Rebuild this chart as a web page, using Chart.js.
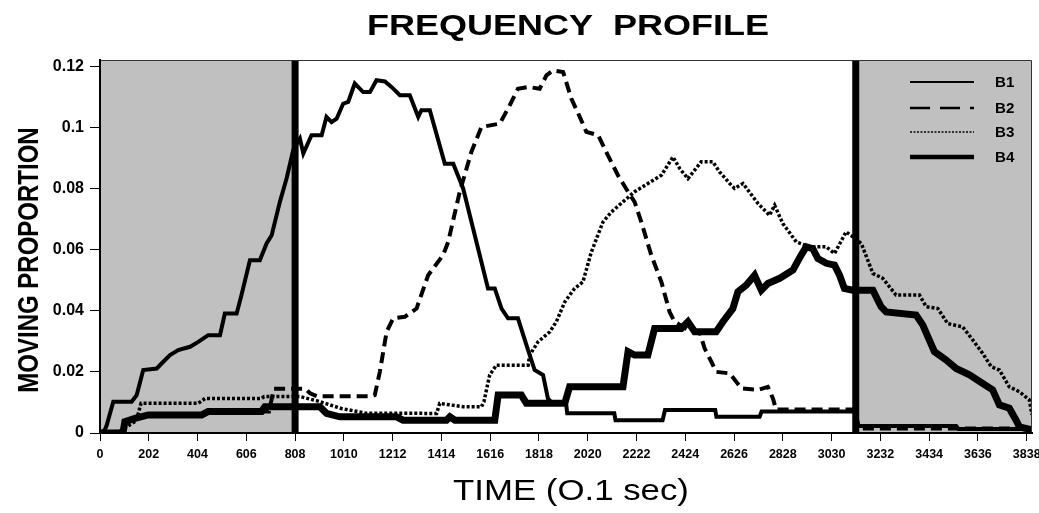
<!DOCTYPE html>
<html>
<head>
<meta charset="utf-8">
<script src="https://cdn.jsdelivr.net/npm/chart.js@4.4.1/dist/chart.umd.min.js"></script>
<style>
  body { margin: 0; background: #fff; }
  #wrap { width: 1039px; height: 513px; }
</style>
</head>
<body>
<div id="wrap"><canvas id="freqChart"></canvas></div>
<script>
// tick values (time in 0.1 sec, moving proportion)
var timeTicks = [0, 202, 404, 606, 808, 1010, 1212, 1414, 1616, 1818, 2020, 2222, 2424, 2626, 2828, 3030, 3232, 3434, 3636, 3838];
var propTicks = [0, 0.02, 0.04, 0.06, 0.08, 0.1, 0.12];

// grey windows and the two boundary markers
var shadedRanges = [[0, 808], [3130, 3860]];
var markerTimes = [808, 3130];

var seriesNames = ['B1', 'B2', 'B3', 'B4'];

// [time, proportion]
var b1 = [[0,0],[20,0.001],[28,0.0026],[55,0.0102],[131,0.0102],[152,0.0124],[179,0.0206],[235,0.0211],[262,0.0233],[290,0.0255],[324,0.0271],[373,0.0282],[407,0.0298],[448,0.032],[497,0.032],[517,0.0391],[566,0.0391],[586,0.0451],[621,0.0565],[662,0.0565],[690,0.062],[711,0.0647],[745,0.0756],[773,0.0833],[800,0.0925],[828,0.0963],[842,0.0914],[876,0.0974],[918,0.0974],[938,0.1034],[959,0.1017],[980,0.1028],[1007,0.1077],[1028,0.1083],[1055,0.1143],[1090,0.1115],[1118,0.1115],[1145,0.1154],[1180,0.115],[1207,0.1132],[1242,0.1105],[1283,0.1105],[1318,0.1034],[1331,0.1056],[1366,0.1056],[1428,0.0881],[1463,0.0881],[1504,0.08],[1607,0.0473],[1635,0.0473],[1663,0.0407],[1690,0.0375],[1731,0.0375],[1766,0.0288],[1800,0.0206],[1835,0.019],[1855,0.0113],[1870,0.010],[1930,0.010],[1935,0.0065],[2130,0.0065],[2135,0.0042],[2330,0.0042],[2340,0.0075],[2548,0.0075],[2553,0.0053],[2732,0.0053],[2740,0.007],[3130,0.007],[3140,0.0023],[3546,0.0023],[3556,0.0013],[3860,0.0013]];

var b2 = [[0,0],[95,0],[103,0.0037],[200,0.0059],[421,0.0059],[448,0.007],[700,0.007],[720,0.0145],[850,0.0145],[870,0.013],[900,0.012],[1124,0.012],[1138,0.0124],[1159,0.02],[1187,0.0331],[1214,0.0375],[1262,0.038],[1311,0.0407],[1359,0.0516],[1421,0.0582],[1442,0.0625],[1490,0.0789],[1538,0.0919],[1580,0.1001],[1656,0.1012],[1697,0.1072],[1731,0.1126],[1773,0.1132],[1821,0.1126],[1849,0.117],[1876,0.1186],[1918,0.1181],[1952,0.1094],[1987,0.1034],[2014,0.0985],[2063,0.0974],[2097,0.0919],[2145,0.0843],[2187,0.0789],[2214,0.0756],[2242,0.069],[2283,0.0582],[2325,0.0494],[2359,0.0396],[2380,0.0364],[2430,0.034],[2483,0.0331],[2504,0.0277],[2532,0.0233],[2552,0.02],[2608,0.0195],[2635,0.0168],[2656,0.0146],[2725,0.0141],[2766,0.0151],[2787,0.0113],[2800,0.0077],[3130,0.0077],[3140,0.0015],[3860,0.0015]];

var b3 = [[0,0],[80,0.0005],[150,0.004],[170,0.0097],[407,0.0097],[435,0.0113],[669,0.0113],[680,0.0119],[830,0.0119],[900,0.0105],[1000,0.008],[1100,0.0065],[1394,0.0064],[1407,0.0097],[1449,0.0092],[1504,0.0086],[1580,0.0086],[1590,0.0102],[1614,0.019],[1642,0.0222],[1773,0.0222],[1780,0.0255],[1814,0.0298],[1863,0.0331],[1890,0.0364],[1925,0.0429],[1966,0.0473],[2000,0.0494],[2035,0.0592],[2083,0.069],[2118,0.0723],[2166,0.0756],[2214,0.0789],[2269,0.0816],[2325,0.0843],[2373,0.0903],[2401,0.0865],[2435,0.0832],[2490,0.0887],[2538,0.0887],[2566,0.0854],[2608,0.0816],[2628,0.08],[2663,0.0816],[2725,0.0751],[2773,0.0712],[2794,0.0745],[2828,0.0685],[2884,0.0625],[2939,0.0609],[3008,0.0609],[3042,0.0587],[3090,0.0658],[3118,0.0642],[3153,0.062],[3201,0.0522],[3242,0.0506],[3297,0.0451],[3394,0.0451],[3422,0.0413],[3470,0.0407],[3511,0.0358],[3573,0.0347],[3615,0.0304],[3656,0.026],[3691,0.0217],[3725,0.0206],[3766,0.0151],[3808,0.0135],[3849,0.0108],[3860,0.006]];

var b4 = [[0,0],[95,0],[103,0.0037],[145,0.0048],[200,0.0059],[421,0.0059],[448,0.007],[669,0.007],[683,0.0086],[911,0.0086],[938,0.0064],[993,0.0053],[1228,0.0053],[1255,0.0042],[1435,0.0042],[1449,0.0053],[1470,0.0042],[1635,0.0042],[1649,0.0124],[1745,0.0124],[1766,0.0097],[1925,0.0097],[1945,0.0151],[2166,0.0151],[2187,0.0266],[2214,0.0255],[2269,0.0255],[2297,0.0342],[2408,0.0342],[2435,0.0364],[2463,0.0331],[2552,0.0331],[2580,0.0364],[2621,0.0407],[2642,0.0462],[2677,0.0484],[2711,0.0516],[2739,0.0467],[2766,0.0489],[2815,0.0506],[2870,0.0533],[2904,0.0582],[2925,0.0609],[2952,0.0603],[2973,0.0571],[3008,0.0555],[3042,0.0549],[3063,0.0516],[3083,0.0473],[3118,0.0467],[3201,0.0467],[3235,0.0413],[3256,0.0396],[3380,0.0386],[3408,0.0353],[3435,0.0304],[3456,0.0266],[3504,0.0239],[3546,0.0211],[3601,0.019],[3656,0.0162],[3697,0.0141],[3725,0.0092],[3766,0.0081],[3794,0.0042],[3808,0.002],[3860,0.001]];

function toPoints(arr){
  return arr.map(function(p){ return {x: p[0], y: p[1]}; });
}

// the scan is stretched sideways, so big text gets a horizontal scale
function stretchedText(ctx, text, x, y, font, sx, angle){
  ctx.save();
  ctx.translate(x, y);
  ctx.scale(sx, 1);
  if (angle) ctx.rotate(angle);
  ctx.font = font;
  ctx.fillStyle = '#000';
  ctx.textAlign = 'center';
  ctx.textBaseline = 'alphabetic';
  ctx.fillText(text, 0, 0);
  ctx.restore();
}

var legendDash = [[], [20, 10], [2, 1.5], []];
var legendWidth = [2, 2.5, 1.6, 4.5];

var framePlugin = {
  id: 'frame',
  beforeDatasetsDraw: function(chart){
    var ctx = chart.ctx, a = chart.chartArea, xs = chart.scales.x;
    ctx.save();
    ctx.fillStyle = '#c0c0c0';
    shadedRanges.forEach(function(r){
      var x0 = xs.getPixelForValue(r[0]), x1 = xs.getPixelForValue(r[1]);
      ctx.fillRect(x0, a.top, x1 - x0, a.bottom - a.top);
    });
    ctx.restore();
  },
  afterDatasetsDraw: function(chart){
    var ctx = chart.ctx, a = chart.chartArea, xs = chart.scales.x;
    ctx.save();
    ctx.fillStyle = '#000';
    markerTimes.forEach(function(t){
      var px = xs.getPixelForValue(t);
      ctx.fillRect(px - 3.5, a.top, 7, a.bottom - a.top);
    });
    // top / right frame
    ctx.strokeStyle = '#333';
    ctx.lineWidth = 1;
    ctx.beginPath();
    ctx.moveTo(a.left, a.top + 0.5);
    ctx.lineTo(a.right - 0.5, a.top + 0.5);
    ctx.lineTo(a.right - 0.5, a.bottom);
    ctx.stroke();
    // left / bottom axes
    ctx.strokeStyle = '#000';
    ctx.lineWidth = 2;
    ctx.beginPath();
    ctx.moveTo(a.left, a.top);
    ctx.lineTo(a.left, a.bottom);
    ctx.lineTo(a.right, a.bottom);
    ctx.stroke();
    ctx.restore();
  },
  afterDraw: function(chart){
    var ctx = chart.ctx;
    stretchedText(ctx, 'FREQUENCY  PROFILE', 568, 35, 'bold 30px "Liberation Sans", Arial, sans-serif', 1.2);
    stretchedText(ctx, 'TIME (O.1 sec)', 571, 500, '29px "Liberation Sans", Arial, sans-serif', 1.2);
    stretchedText(ctx, 'MOVING PROPORTION', 38, 260, 'bold 24px "Liberation Sans", Arial, sans-serif', 1.19, -Math.PI / 2);

    // legend in the top right corner
    var ys = [82, 108, 132, 157];
    chart.data.datasets.forEach(function(ds, i){
      ctx.save();
      ctx.strokeStyle = '#000';
      ctx.lineWidth = legendWidth[i];
      ctx.setLineDash(legendDash[i]);
      ctx.beginPath();
      ctx.moveTo(910, ys[i]);
      ctx.lineTo(974, ys[i]);
      ctx.stroke();
      ctx.restore();
      ctx.save();
      ctx.translate(995, ys[i] + 5);
      ctx.scale(1.08, 1);
      ctx.font = 'bold 14px "Liberation Sans", Arial, sans-serif';
      ctx.fillStyle = '#000';
      ctx.textAlign = 'left';
      ctx.fillText(ds.label, 0, 0);
      ctx.restore();
    });
  }
};

var ctx = document.getElementById('freqChart').getContext('2d');
var chart = new Chart(ctx, {
  type: 'scatter',
  data: {
    datasets: [
      { label: seriesNames[0], data: toPoints(b1), borderColor: '#000', borderWidth: 4 },
      { label: seriesNames[1], data: toPoints(b2), borderColor: '#000', borderWidth: 4, borderDash: [11, 6] },
      { label: seriesNames[2], data: toPoints(b3), borderColor: '#000', borderWidth: 3.5, borderDash: [3, 2] },
      { label: seriesNames[3], data: toPoints(b4), borderColor: '#000', borderWidth: 7 }
    ]
  },
  options: {
    responsive: true,
    maintainAspectRatio: false,
    animation: false,
    showLine: true,
    elements: {
      point: { radius: 0, hoverRadius: 0 },
      line: { tension: 0, borderCapStyle: 'butt', borderJoinStyle: 'miter' }
    },
    layout: { padding: { top: 60, left: 0, right: 7, bottom: 0 } },
    plugins: {
      legend: { display: false },
      title: { display: false },
      tooltip: { enabled: false }
    },
    scales: {
      x: {
        type: 'linear',
        min: 0,
        max: 3860,
        afterBuildTicks: function(s){ s.ticks = timeTicks.map(function(v){ return {value: v}; }); },
        afterFit: function(s){ s.height = 80; s.paddingLeft = 0; s.paddingRight = 0; },
        grid: { drawOnChartArea: false, drawTicks: true, tickLength: 8, color: '#000', lineWidth: 1 },
        border: { display: true, color: '#000', width: 2 },
        ticks: {
          padding: 6,
          maxRotation: 0,
          autoSkip: false,
          color: '#000',
          font: { family: '"Liberation Sans", Arial, sans-serif', size: 12.5, weight: 'bold' },
          callback: function(v){ return String(v); }
        }
      },
      y: {
        min: 0,
        max: 0.122,
        afterBuildTicks: function(s){ s.ticks = propTicks.map(function(v){ return {value: v}; }); },
        afterFit: function(s){ s.width = 100; s.paddingTop = 0; s.paddingBottom = 0; },
        grid: { drawOnChartArea: false, drawTicks: true, tickLength: 10, color: '#000', lineWidth: 1 },
        border: { display: true, color: '#000', width: 2 },
        ticks: {
          padding: 6,
          color: '#000',
          font: { family: '"Liberation Sans", Arial, sans-serif', size: 16, weight: 'bold' },
          callback: function(v){ return String(Math.round(v * 100) / 100); }
        }
      }
    }
  },
  plugins: [framePlugin]
});
</script>
</body>
</html>
